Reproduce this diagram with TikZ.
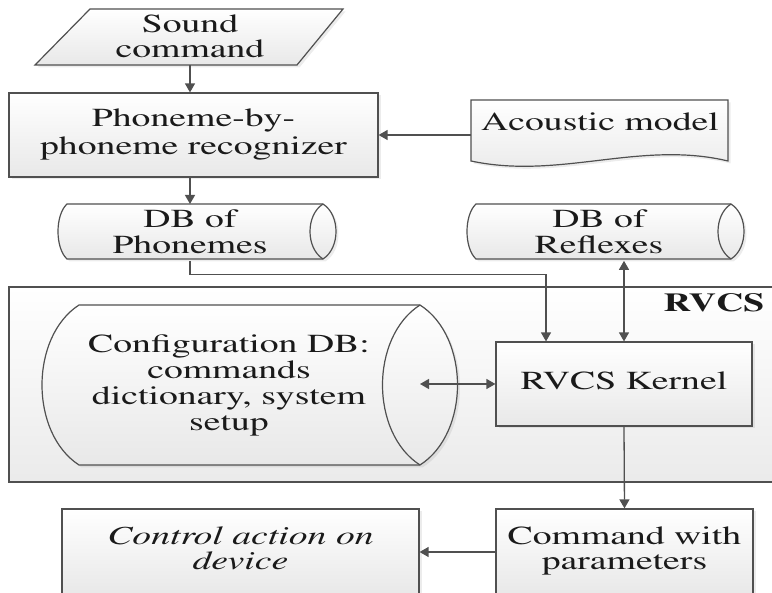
\documentclass[tikz,border=0pt]{standalone}
\usepackage[T1]{fontenc}
\usepackage{times}
\usepackage{graphicx}
\usetikzlibrary{arrows.meta,shadows}
\definecolor{ln}{HTML}{505050}
\definecolor{tx}{HTML}{1A1A1A}
\newcommand\mytxt[1]{\raisebox{-4pt}{\scalebox{1.45}[1]{\begin{tabular}{@{}c@{}}#1\end{tabular}}}}
\newcommand\mydbshape[6]{% #1 x0, #2 lens centre x, #3 top, #4 bottom, #5 left bulge, #6 lens rx
  \path[shp] (#1,#3) -- (#2,#3)
    .. controls ({#2+1.333*#6},{#3+0.2*(#4-#3)}) and ({#2+1.333*#6},{#4-0.2*(#4-#3)}) .. (#2,#4)
    -- (#1,#4)
    .. controls ({#1-1.333*#5},{#4-0.2*(#4-#3)}) and ({#1-1.333*#5},{#3+0.2*(#4-#3)}) .. (#1,#3) -- cycle;
  \draw[ln, line width=1.2pt] (#2,#3)
    .. controls ({#2-1.333*#6},{#3+0.2*(#4-#3)}) and ({#2-1.333*#6},{#4-0.2*(#4-#3)}) .. (#2,#4);
}
\begin{document}
\begin{tikzpicture}[x=1pt,y=-1pt,
  every node/.style={text=tx, font=\fontsize{26}{25}\selectfont, align=center, inner sep=0pt},
  shp/.style={draw=ln, line width=1.2pt, top color=white, bottom color=black!9,
    drop shadow={opacity=0.15, shadow xshift=2.5pt, shadow yshift=-2.5pt}},
  arr/.style={draw=ln, line width=1.3pt, -{Triangle[length=9pt,width=10pt]}},
  darr/.style={draw=ln, line width=1.3pt, {Triangle[length=9pt,width=10pt]}-{Triangle[length=9pt,width=10pt]}}
]
\useasboundingbox (0,0) rectangle (772,593);
\clip (0,0) rectangle (772,593);

% RVCS area
\path[draw=ln, line width=1.2pt, top color=white, bottom color=black!8] (9,287) rectangle (800,482);
\node[font=\fontsize{26}{25}\selectfont\bfseries, anchor=base] (rvcslbl) at (714,312) {\scalebox{1.45}[1]{RVCS}};

% Sound command
\path[shp] (90,9) -- (343,9) -- (297,65) -- (35,65) -- cycle;
\node[minimum width=200pt, minimum height=50pt, font=\fontsize{26}{24}\selectfont] (sound) at (190,40) {\mytxt{Sound\\command}};

% Recognizer
\node[shp, minimum width=369pt, minimum height=84pt, font=\fontsize{26}{28}\selectfont] (rec) at (193.5,135) {\mytxt{Phoneme-by-\\phoneme recognizer}};

% Acoustic model
\path[shp] (471,100) -- (728,100) -- (728,161) .. controls (640,140) and (560,180) .. (471,161) -- cycle;
\node (acou) at (600,125) {\mytxt{Acoustic model}};
\coordinate (acouw) at (471,135);

% DB of Phonemes
\mydbshape{67}{323}{204}{259}{9}{13}
\node[minimum height=47pt] (phon) at (190,235.5) {\mytxt{DB of\\Phonemes}};
\coordinate (phontop) at (190,204);

% DB of Reflexes
\mydbshape{476}{731}{204}{259}{9}{13}
\node[minimum height=47pt] (refl) at (599,235.5) {\mytxt{DB of\\Reflexes}};

% Configuration DB
\mydbshape{79}{420}{305}{465}{37}{37.5}
\node[font=\fontsize{26}{26}\selectfont] (cfg) at (229,386) {\mytxt{Configuration DB:\\commands\\dictionary, system\\setup}};
\coordinate (cfgc) at (420,384);

% Kernel, command, control
\node[shp, minimum width=256pt, minimum height=84pt] (kern) at (624,384) {\mytxt{RVCS Kernel}};
\node[shp, minimum width=257pt, minimum height=86pt] (cmd) at (624.5,552) {\mytxt{Command with\\parameters}};
\node[shp, minimum width=357pt, minimum height=86pt, font=\fontsize{26}{25}\selectfont\itshape] (ctrl) at (240.5,552) {\mytxt{Control action on\\device}};

% connectors
\draw[arr] (sound.south) -- (sound.south |- rec.north);
\draw[arr] (phontop |- rec.south) -- (phontop);
\draw[arr] (acouw) -- (acouw -| rec.east);
\draw[arr] (phon.south) -- ++(0,14) -| ([xshift=-78pt]kern.north);
\draw[darr] (kern.north |- phon.south) -- (kern.north);
\draw[darr] (cfgc) -- (kern.west);
\draw[arr] (kern.south) -- (cmd.north);
\draw[arr] (cmd.west) -- (ctrl.east);
\end{tikzpicture}
\end{document}
